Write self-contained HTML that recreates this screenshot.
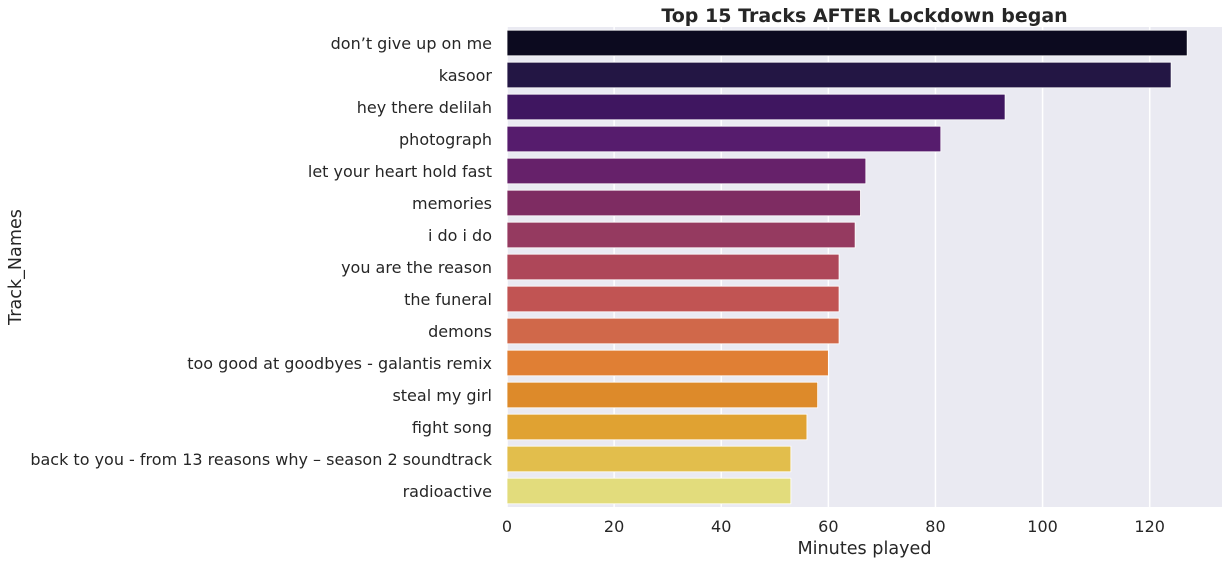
<!DOCTYPE html>
<html><head><meta charset="utf-8">
<style>
body{margin:0;background:#fff;}
svg{display:block;font-family:"DejaVu Sans","Liberation Sans",sans-serif;}
</style></head>
<body>
<svg id="chart" width="1228" height="565"></svg>
<script>
const categories=["don\u2019t give up on me","kasoor","hey there delilah","photograph","let your heart hold fast","memories","i do i do","you are the reason","the funeral","demons","too good at goodbyes - galantis remix","steal my girl","fight song","back to you - from 13 reasons why \u2013 season 2 soundtrack","radioactive"];
const values=[127,124,93,81,67,66,65,62,62,62,60,58,56,53,53];
const colors=["#0c0a1f","#231644","#3f1660","#561c6d","#66216a","#7e2c62","#953a60","#ae4759","#c15453","#d0684a","#e07f34","#dd8a2a","#e0a232","#e2be4c","#e2dc7c"];
const xTicks=[0,20,40,60,80,100,120];

const NS="http://www.w3.org/2000/svg";
const svg=document.getElementById("chart");
const L=507,R=1222,T=27,B=507;
const xMax=133.5;
const x=v=>L+v/xMax*(R-L);
const band=(B-T)/categories.length;
const y=i=>T+i*band;
function mk(tag,attrs,parent){const e=document.createElementNS(NS,tag);for(const k in attrs)e.setAttribute(k,attrs[k]);(parent||svg).appendChild(e);return e;}

const bg=mk("rect",{x:L,y:T,width:R-L,height:B-T,fill:"#eaeaf2"});



xTicks.forEach(t=>{
  const g=mk("line",{x1:x(t),x2:x(t),y1:T,y2:B,stroke:"#fff","stroke-width":1.5});
  
  
  const tl=mk("text",{x:x(t),y:B+25,"text-anchor":"middle","font-size":16,fill:"#262626"});
  tl.textContent=t;
  
  
});

categories.forEach((c,i)=>{
  const h=band*0.8;
  const r=mk("rect",{x:L,y:y(i)+band*0.1,width:x(values[i])-L,height:h,fill:colors[i],stroke:"#fff","stroke-width":0.8});
  
  
  const tl=mk("text",{x:L-15,y:y(i)+band/2+6,"text-anchor":"end","font-size":16,fill:"#262626"});
  tl.textContent=c;
  
  
});

const title=mk("text",{x:(L+R)/2,y:22,"text-anchor":"middle","font-size":19,"font-weight":"bold",fill:"#262626"});
title.textContent="Top 15 Tracks AFTER Lockdown began";



const xt=mk("text",{x:(L+R)/2,y:554,"text-anchor":"middle","font-size":17.6,fill:"#262626"});
xt.textContent="Minutes played";



const yt=mk("text",{x:0,y:0,"text-anchor":"middle","font-size":17.6,fill:"#262626",transform:"translate(21,"+((T+B)/2)+") rotate(-90)"});
yt.textContent="Track_Names";


</script>
</body></html>
